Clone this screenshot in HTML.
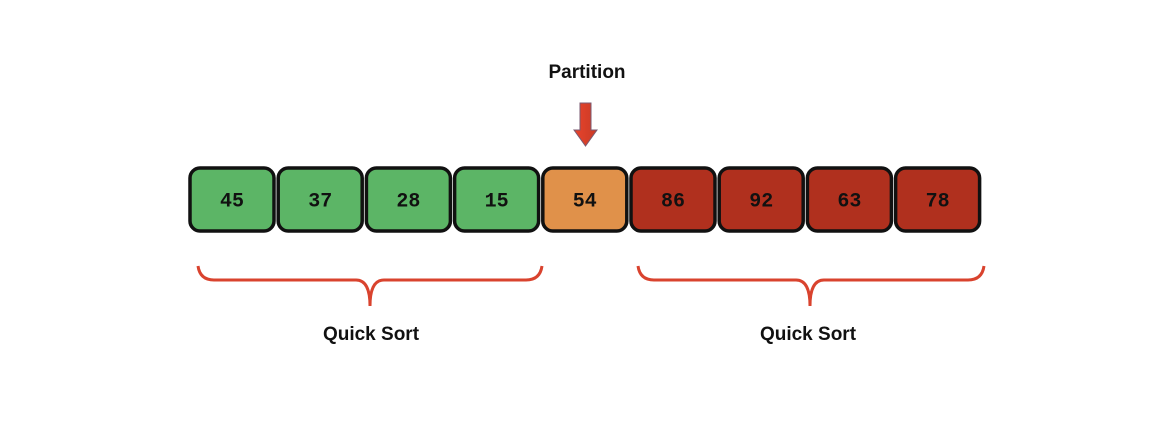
<!DOCTYPE html>
<html><head><meta charset="utf-8"><style>
body{margin:0;background:#fff;}
svg text{font-family:"Liberation Sans",sans-serif;}
</style></head><body>
<svg width="1176" height="428">
<defs>
<linearGradient id="ag" x1="0" x2="1"><stop offset="0" stop-color="#e8442c"/><stop offset="1" stop-color="#c93a25"/></linearGradient>
</defs>
<text x="587" y="78" text-anchor="middle" font-size="19" font-weight="bold" fill="#111">Partition</text>
<path d="M580,103 H591 V130 H597 L585.5,146 L574,130 H580 Z" fill="url(#ag)" stroke="#7a5a70" stroke-width="1"/>
<g id="boxes"></g>
<path d="M198,266 Q200,280 214,280 H356 Q370,280 370,306 Q370,280 384,280 H526 Q540,280 542,266" fill="none" stroke="#d9432e" stroke-width="3"/>
<path d="M638,266 Q640,280 654,280 H796 Q810,280 810,306 Q810,280 824,280 H968 Q982,280 984,266" fill="none" stroke="#d9432e" stroke-width="3"/>
<text x="371" y="340" text-anchor="middle" font-size="19" font-weight="bold" fill="#111">Quick Sort</text>
<text x="808" y="340" text-anchor="middle" font-size="19" font-weight="bold" fill="#111">Quick Sort</text>
</svg>
<script>
const values=[45,37,28,15,54,86,92,63,78];
const groups=["left","left","left","left","pivot","right","right","right","right"];
const colors={left:"#5cb566",pivot:"#e0914a",right:"#b0301e"};
const g=document.getElementById('boxes');
const ns="http://www.w3.org/2000/svg";
const x0=190,step=88.2,w=84,y=168,h=63;
values.forEach((v,i)=>{
  const r=document.createElementNS(ns,'rect');
  
  
  r.setAttribute('x',x0+i*step);r.setAttribute('y',y);
  r.setAttribute('width',w);r.setAttribute('height',h);
  r.setAttribute('rx',10);r.setAttribute('fill',colors[groups[i]]);
  r.setAttribute('stroke','#111');r.setAttribute('stroke-width',3.5);
  g.appendChild(r);
  const t=document.createElementNS(ns,'text');
  
  
  t.setAttribute('x',x0+i*step+w/2);t.setAttribute('y',y+h/2+7);
  t.setAttribute('text-anchor','middle');t.setAttribute('font-size','20');
  t.setAttribute('font-weight','bold');t.setAttribute('fill','#111');
  t.setAttribute('style','font-family:"Liberation Mono",monospace');
  t.textContent=v;
  g.appendChild(t);
});
</script>
</body></html>
